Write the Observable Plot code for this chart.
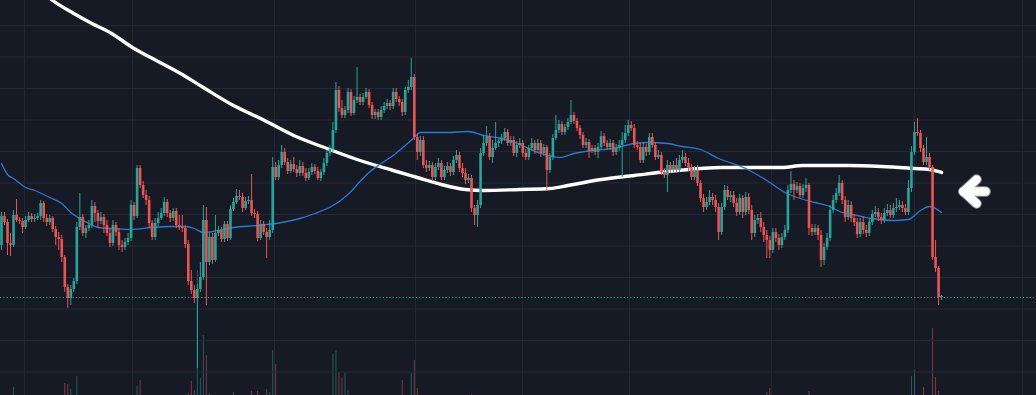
<!DOCTYPE html>
<html><head><meta charset="utf-8">
<script src="https://cdn.jsdelivr.net/npm/d3@7"></script>
<script src="https://cdn.jsdelivr.net/npm/@observablehq/plot@0.6"></script>
<style>
html,body{margin:0;padding:0;background:#161a25;overflow:hidden;}
#wrap{position:relative;width:1036px;height:395px;background:#161a25;}
#wrap svg{position:absolute;left:0;top:0;}
</style></head><body><div id="wrap"></div>
<script>
// ---- data (price units, candle index = time) ----
const firstOpen = 155;
const close = [184,178,157,155,185,180,179,173,180,184,
181,182,184,197,182,178,182,171,163,161,
143,113,102,111,119,173,183,167,172,175,
194,187,179,183,175,167,157,175,168,155,
153,158,162,195,184,232,215,205,200,177,
163,177,182,187,198,187,182,189,175,173,
172,156,119,110,102,111,123,180,138,163,
140,167,170,161,176,162,191,198,204,203,
192,199,200,187,186,162,176,168,163,170,
233,223,235,248,238,229,236,231,227,234,
227,222,228,233,229,222,228,237,247,251,
270,310,292,285,290,308,287,300,303,298,
303,308,295,285,288,283,290,294,297,294,
308,301,298,288,310,313,323,263,248,260,
235,232,235,223,233,237,223,230,234,228,
240,245,232,227,220,222,192,185,195,247,
257,263,243,252,257,259,262,268,257,260,
247,255,257,247,243,252,257,250,257,247,
253,230,243,262,270,276,268,273,278,285,
279,272,265,255,258,249,252,248,253,264,
257,253,257,248,252,255,260,267,275,272,
255,253,240,253,248,263,255,243,245,228,
225,235,230,235,230,240,243,237,232,223,
230,217,202,193,198,203,200,193,168,193,
210,203,205,197,188,202,188,203,190,167,
180,182,173,165,160,150,168,162,155,163,
170,210,216,210,214,205,212,215,172,168,
172,165,140,153,162,190,200,207,217,200,
183,195,182,178,166,178,170,167,178,186,
188,183,180,187,190,185,192,193,195,192,
188,212,248,268,267,252,238,243,233,143,
132,103,104];
const high = [188,188,181,167,190,201,183,182,184,188,
187,186,187,200,199,186,185,184,174,168,
165,145,116,115,122,178,207,186,175,180,
200,198,190,188,186,180,172,180,178,172,
160,162,167,200,198,235,235,219,210,204,
180,182,188,192,203,201,190,192,192,185,
185,175,160,130,115,116,138,195,193,168,
167,185,174,173,179,179,195,202,211,210,
207,203,204,226,191,189,180,179,172,180,
243,238,240,255,252,242,240,243,235,240,
238,232,232,237,236,233,231,242,250,255,
278,318,314,300,294,312,311,304,333,306,
307,312,311,298,291,291,294,298,301,300,
312,312,304,301,313,320,342,326,265,264,
264,240,239,238,237,242,240,234,238,237,
244,250,248,237,232,226,225,195,200,252,
265,274,267,260,278,262,266,272,271,264,
264,259,262,260,251,255,262,260,261,260,
256,255,247,266,285,280,279,276,282,300,
288,282,275,268,262,261,255,255,257,269,
267,260,261,260,256,260,268,275,280,279,
276,259,257,257,256,267,267,258,250,248,
232,240,238,239,242,245,250,247,242,236,
234,235,220,206,203,210,207,205,197,197,
215,214,209,209,202,206,205,208,207,195,
185,186,188,178,170,164,172,172,166,167,
175,215,229,220,218,217,216,222,217,176,
176,175,170,157,167,195,205,212,225,220,
204,200,199,186,182,182,184,175,182,190,
194,192,187,192,196,195,197,202,200,199,
196,220,254,278,282,270,255,263,247,235,
160,134,105];
const low = [150,175,145,144,153,178,176,167,171,178,
178,178,180,180,178,174,175,168,155,150,
138,108,92,95,108,116,170,164,162,169,
172,178,172,176,167,164,153,154,164,150,
148,150,155,159,180,182,212,202,195,172,
160,160,174,180,184,183,178,179,172,170,
168,152,115,106,97,32,108,120,95,135,
136,138,164,158,158,159,160,189,196,200,
188,190,196,184,182,159,160,165,142,160,
167,220,220,232,235,226,227,228,223,224,
224,219,220,225,226,220,219,225,234,244,
248,267,288,282,282,287,284,285,297,295,
295,301,292,281,281,280,280,287,291,290,
291,298,294,284,285,307,310,260,240,244,
232,228,229,219,220,230,220,220,227,224,
225,237,228,223,216,217,188,175,173,192,
244,254,240,237,250,253,256,259,254,254,
244,243,252,243,240,240,249,246,247,243,
244,210,227,240,260,267,265,265,270,276,
276,269,261,252,252,242,247,245,242,250,
254,250,250,244,245,249,223,257,264,269,
252,250,237,237,244,245,252,240,241,225,
222,208,227,228,227,228,237,234,229,220,
220,214,198,188,190,195,195,188,160,165,
190,200,198,193,184,185,182,185,186,160,
163,176,168,158,142,142,147,158,150,152,
160,167,207,200,207,202,202,208,165,164,
165,160,133,135,150,159,187,197,204,196,
178,180,178,174,162,163,166,163,164,175,
183,179,176,177,184,182,182,188,190,188,
185,185,208,245,264,248,235,235,230,140,
128,95,100];
const volume = [8,10,9,11,23,9,7,8,10,9,
7,8,9,11,10,8,9,10,12,11,
13,27,26,21,12,34,11,10,9,8,
10,9,8,9,10,11,12,10,9,11,
10,9,8,12,10,24,30,12,11,13,
11,10,9,8,10,9,8,9,11,10,
12,13,17,29,20,140,32,75,55,17,
13,12,11,10,12,11,10,18,11,9,
10,9,8,19,11,19,12,10,21,18,
60,46,14,12,11,10,9,8,9,10,
8,9,10,9,8,9,10,11,12,13,
56,60,38,32,37,20,14,12,11,10,
9,10,11,10,9,8,9,10,11,10,
12,11,10,30,13,12,37,50,22,14,
12,11,10,9,10,11,12,10,9,10,
9,8,10,11,12,13,16,13,12,14,
11,10,9,8,9,10,9,8,9,8,
9,8,7,8,9,8,7,8,9,8,
9,12,10,9,10,8,9,8,9,10,
9,8,9,10,8,9,8,7,8,9,
8,7,8,9,8,7,8,9,10,9,
10,9,10,9,8,9,10,9,8,10,
9,10,9,8,9,8,7,8,9,10,
9,10,11,12,10,9,8,9,13,11,
10,9,8,9,10,9,10,9,10,13,
11,10,11,12,18,22,13,11,12,10,
11,13,10,9,8,9,8,9,19,12,
10,11,14,12,10,11,10,9,10,9,
10,9,8,9,10,9,8,9,8,9,
8,7,8,9,8,7,8,9,8,9,
10,12,34,40,13,12,23,11,12,82,
33,19,12];
// moving averages (read at sampled candles)
const ma200Idx = [13,17,24,30,36,44,52,60,67,77,86,97,108,119,130,138,146,154,160,172,182,188,199,210,221,232,239,259,266,281,292,303,308,312];
const ma200 = [410,400,387,377,368,352,339,326,313,295,282,265,252,240,230,223,216,211,210,211,212,215,221,225,229,232,233,233,235,235,234,232,231,228];
const ma50Idx = [0,2,4,8,11,16,20,23,26,29,32,37,43,50,56,61,64,67,70,77,85,93,99,104,110,113,116,119,122,126,130,134,137,139,148,155,160,166,172,179,185,190,196,203,210,215,221,226,232,238,247,254,260,264,270,274,279,284,289,296,301,305,308,312];
const ma50 = [237,226,222,213,210,203,197,188,182,177,173,172,171,173,174,174,172,168,169,173,175,178,182,187,195,201,209,219,228,237,245,255,263,268,268,269,265,262,256,247,243,247,250,252,257,258,257,254,251,242,232,220,208,203,198,195,188,185,182,180,181,190,194,188];
const lastPrice = 103;
const priceGrid = [375,343.5,312,280.5,249,217.5,186,154.5,123,91.5,60,28.5];
const timeGrid = [7.6,43.5,90.6,137.4,172.9,208.4,255.6,303,338.9];
const arrowSegs = [
  {x1:319.3,y1:209,x2:326.6,y2:209},
  {x1:319.3,y1:209,x2:323.6,y2:221},
  {x1:319.3,y1:209,x2:323.6,y2:197}
];

// ---- build ----
const GREEN = "#26a69a", RED = "#ef5350";
const candles = close.map((c,i)=>({i, o: i ? close[i-1] : firstOpen, c, h: high[i], l: low[i], v: volume[i]}));
const ups = candles.filter(d=>d.c>=d.o), downs = candles.filter(d=>d.c<d.o);
const xDomain = [-0.33, 343.5];
const W = 1036, H = 395;

const volPlot = Plot.plot({
  width: W, height: H, margin: 0,
  style: {background: "transparent", overflow: "hidden"},
  x: {domain: xDomain, axis: null},
  y: {domain: [0, 140], range: [410, 270], axis: null},
  marks: [
    Plot.gridX(timeGrid, {stroke: "#242835", strokeOpacity: 1}),
    Plot.ruleX(ups, {x: "i", y1: 0, y2: "v", stroke: "rgba(38,166,154,0.5)", strokeWidth: 1}),
    Plot.ruleX(downs, {x: "i", y1: 0, y2: "v", stroke: "rgba(239,83,80,0.5)", strokeWidth: 1})
  ]
});

const mainPlot = Plot.plot({
  width: W, height: H, margin: 0,
  style: {background: "transparent", overflow: "hidden"},
  x: {domain: xDomain, axis: null},
  y: {domain: [5, 400], axis: null},
  marks: [
    Plot.gridY(priceGrid, {stroke: "#242835", strokeOpacity: 1}),
    Plot.ruleY([lastPrice], {stroke: GREEN, strokeWidth: 1, strokeDasharray: "1.2,2.1"}),
    Plot.line(ma200Idx.map((x,k)=>({x, y: ma200[k]})), {x: "x", y: "y", stroke: "#ffffff", strokeWidth: 3.4, curve: "monotone-x", clip: true}),
    Plot.line(ma50Idx.map((x,k)=>({x, y: ma50[k]})), {x: "x", y: "y", stroke: "#2b79d6", strokeWidth: 1.3, curve: "monotone-x", clip: true}),
    Plot.ruleX(ups, {x: "i", y1: "l", y2: "h", stroke: GREEN, strokeWidth: 1}),
    Plot.ruleX(downs, {x: "i", y1: "l", y2: "h", stroke: RED, strokeWidth: 1}),
    Plot.ruleX(ups, {x: "i", y1: "o", y2: "c", stroke: GREEN, strokeWidth: 2.6}),
    Plot.ruleX(downs, {x: "i", y1: "o", y2: "c", stroke: RED, strokeWidth: 2.6}),
    Plot.link(arrowSegs, {x1: "x1", y1: "y1", x2: "x2", y2: "y2", stroke: "#8d929b", strokeWidth: 10.5, strokeLinecap: "round"}),
    Plot.link(arrowSegs, {x1: "x1", y1: "y1", x2: "x2", y2: "y2", stroke: "#ffffff", strokeWidth: 8.5, strokeLinecap: "round"})
  ]
});

const wrap = document.getElementById("wrap");
wrap.appendChild(volPlot);
wrap.appendChild(mainPlot);
</script>
</body></html>
